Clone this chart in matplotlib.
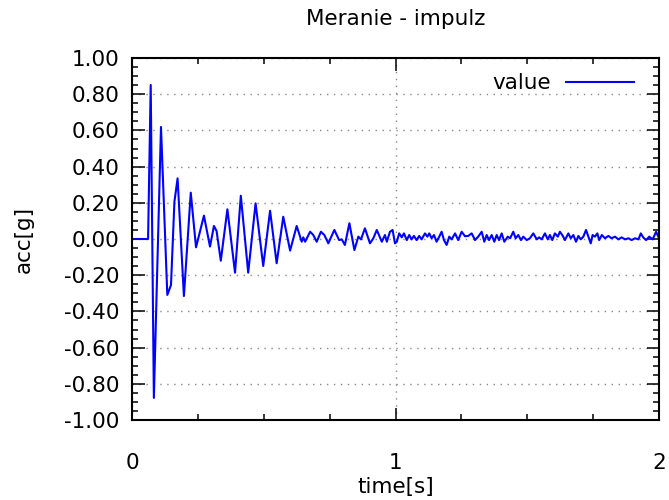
import matplotlib
matplotlib.use("Agg")
import matplotlib.pyplot as plt
from matplotlib.ticker import FixedLocator, MultipleLocator, FuncFormatter
import numpy as np

# ---- data ----
t_impulse = [0.000, 0.061, 0.071, 0.083, 0.110, 0.134, 0.148, 0.161, 0.173, 0.197,
             0.223, 0.243, 0.273, 0.296, 0.311, 0.321, 0.337, 0.362, 0.391, 0.413,
             0.441, 0.469, 0.498, 0.524, 0.549, 0.574, 0.600, 0.625]
acc_impulse = [0.000, 0.000, 0.851, -0.878, 0.619, -0.309, -0.254, 0.206, 0.335, -0.315,
               0.256, -0.046, 0.129, -0.042, 0.072, 0.044, -0.120, 0.164, -0.186, 0.239,
               -0.186, 0.197, -0.149, 0.156, -0.134, 0.123, -0.064, 0.072]

t_tail1 = [0.644, 0.650, 0.657, 0.676, 0.688, 0.701, 0.717, 0.730, 0.745, 0.768,
           0.786, 0.796, 0.808, 0.825, 0.844, 0.859, 0.869, 0.884, 0.903, 0.916,
           0.929, 0.948, 0.960, 0.967, 0.979, 0.989, 0.998, 1.005, 1.014, 1.024,
           1.032, 1.043, 1.052, 1.061, 1.070, 1.080, 1.090, 1.099, 1.112, 1.121,
           1.128, 1.137, 1.146, 1.156, 1.166, 1.175, 1.184, 1.194, 1.204, 1.213,
           1.226, 1.238, 1.251, 1.264]
acc_tail1 = [-0.015, 0.009, -0.015, 0.040, 0.022, -0.015, 0.040, 0.022, -0.024, 0.050,
             -0.006, -0.002, -0.033, 0.087, -0.061, 0.013, -0.002, 0.059, -0.024, 0.004,
             0.050, -0.015, 0.022, -0.015, 0.040, 0.050, -0.024, -0.015, 0.031, 0.009,
             0.031, -0.006, 0.022, -0.002, 0.017, -0.006, 0.017, -0.002, 0.031, 0.013,
             0.031, 0.004, 0.022, -0.015, 0.013, 0.040, -0.006, -0.033, 0.013, -0.002,
             0.031, -0.006, 0.040, 0.015]

t_tail2 = [1.276, 1.289, 1.302, 1.314, 1.327, 1.337, 1.346, 1.355, 1.365, 1.375,
           1.384, 1.393, 1.403, 1.413, 1.426, 1.435, 1.447, 1.456, 1.466, 1.476,
           1.485, 1.498, 1.510, 1.523, 1.536, 1.545, 1.555, 1.567, 1.578, 1.586,
           1.595, 1.605, 1.616, 1.624, 1.635, 1.643, 1.656, 1.665, 1.675, 1.685,
           1.694, 1.703, 1.713, 1.723, 1.732, 1.741, 1.748, 1.757, 1.766, 1.773,
           1.783, 1.795, 1.808, 1.820, 1.833, 1.846, 1.858, 1.871, 1.884, 1.896,
           1.909, 1.922, 1.931, 1.940, 1.951, 1.963, 1.976, 1.989, 2.000]
acc_tail2 = [0.017, 0.031, -0.006, 0.013, 0.040, -0.015, 0.022, -0.006, 0.022, -0.015,
             0.022, -0.006, 0.031, -0.015, 0.013, 0.004, 0.040, 0.004, 0.022, -0.006,
             0.013, -0.006, 0.004, 0.031, -0.002, 0.009, -0.002, 0.031, -0.002, 0.022,
             -0.006, 0.031, 0.013, 0.040, 0.017, -0.006, 0.031, 0.004, 0.022, -0.015,
             0.017, -0.002, 0.013, 0.050, 0.013, -0.024, 0.022, 0.013, 0.031, -0.006,
             0.022, 0.004, 0.017, 0.004, 0.013, -0.002, 0.009, -0.002, 0.004, -0.006,
             0.004, -0.002, 0.031, 0.009, -0.006, 0.013, -0.002, 0.040, 0.004]

x_ticks = [0, 1, 2]
y_ticks = [-1.0, -0.8, -0.6, -0.4, -0.2, 0.0, 0.2, 0.4, 0.6, 0.8, 1.0]

title = "Meranie - impulz"
series_label = "value"
x_label = "time[s]"
y_label = "acc[g]"

time_s = np.array(t_impulse + t_tail1 + t_tail2)
acc_g = np.array(acc_impulse + acc_tail1 + acc_tail2)

# ---- figure ----
plt.rcParams['font.family'] = ['DejaVu Sans']
fs = 15.5
fig = plt.figure(figsize=(6.69, 5.0), dpi=100)
ax = fig.add_axes([132/669, 1 - 420/500, (659 - 132)/669, (420 - 58)/500])

ax.plot(time_s, acc_g, color='#0000ff', lw=1.5, label=series_label)

ax.set_xlim(0, 2)
ax.set_ylim(-1, 1)
ax.xaxis.set_major_locator(FixedLocator(x_ticks))
ax.xaxis.set_minor_locator(MultipleLocator(0.25))
ax.yaxis.set_major_locator(FixedLocator(y_ticks))
ax.yaxis.set_minor_locator(MultipleLocator(0.05))
ax.xaxis.set_major_formatter(FuncFormatter(lambda v, p: f"{v:g}"))
ax.yaxis.set_major_formatter(FuncFormatter(lambda v, p: f"{v + 0.0:.2f}".replace("-0.00", "0.00")))

ax.tick_params(which='both', direction='in', top=True, right=True,
               labelsize=fs, colors='black', width=1.1)
ax.tick_params(which='major', length=9, pad=9)
ax.tick_params(axis='x', which='major', pad=24)
ax.tick_params(which='minor', length=4.5)

for s in ax.spines.values():
    s.set_linewidth(1.5)
    s.set_color('black')

ax.grid(True, which='major', linestyle=(0, (1, 4)), color='#888888', lw=1.0)
ax.set_axisbelow(True)

ax.set_title(title, fontsize=fs, pad=24)
ax.set_xlabel(x_label, fontsize=fs, labelpad=3)
ax.set_ylabel(y_label, fontsize=fs, labelpad=22)

leg = ax.legend(loc='upper right', frameon=False, markerfirst=False,
                fontsize=fs, handlelength=3.2, handletextpad=0.7,
                borderaxespad=0.3, bbox_to_anchor=(0.982, 1.0))

fig.savefig("out.png", dpi=100)
